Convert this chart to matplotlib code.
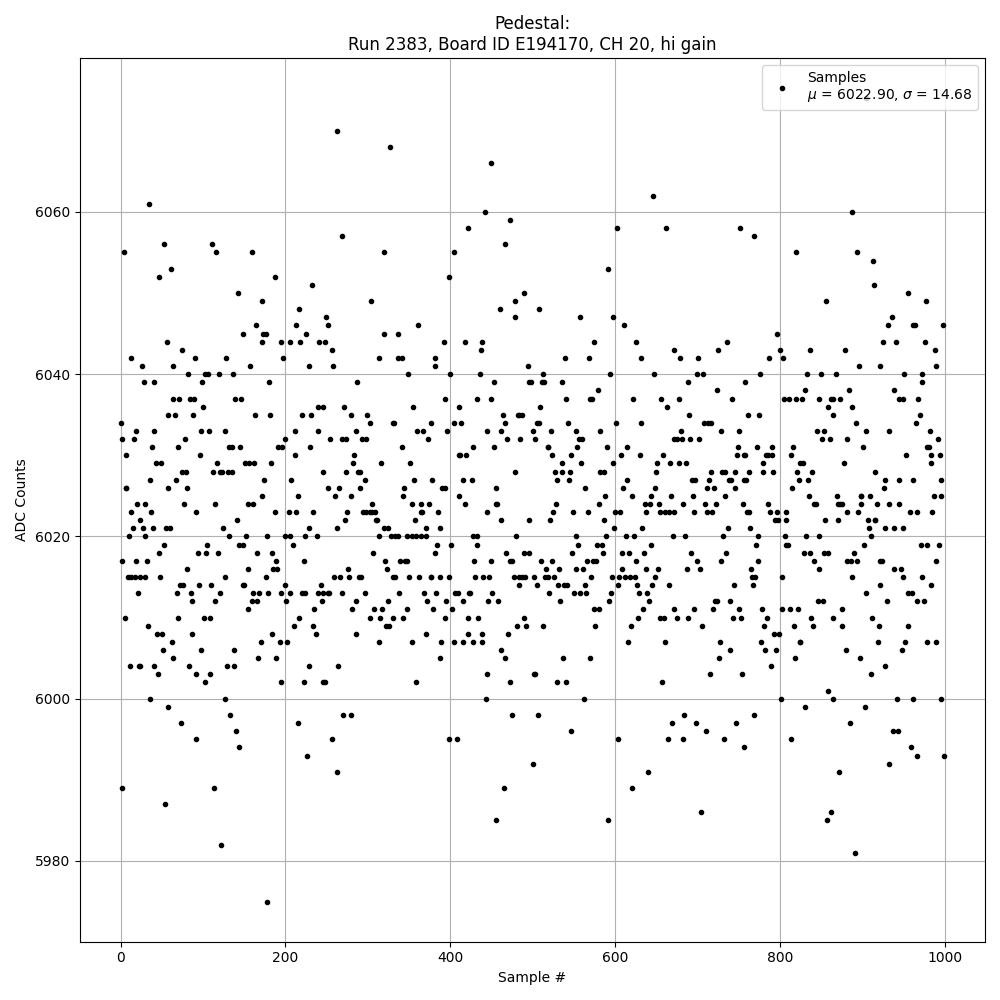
import matplotlib
matplotlib.use('Agg')
import matplotlib.pyplot as plt

# samples, grouped per ADC level
adc_levels = [6074, 6070, 6068, 6066, 6062, 6061, 6060, 6059, 6058, 6057, 6056, 6055, 6054, 6053, 6052, 6051,
              6050, 6049, 6048, 6047, 6046, 6045, 6044, 6043, 6042, 6041, 6040, 6039, 6038, 6037, 6036, 6035]
samples_high = [
    [905], [263], [327], [450], [646], [34], [442, 887], [472], [422, 602, 662, 752], [268, 768],
    [52, 111, 467], [4, 116, 159, 319, 405, 819, 893], [913], [61, 592], [46, 187, 399], [232, 914],
    [142, 490, 956], [172, 304, 479, 856, 977], [217, 460, 508], [249, 478, 558, 598, 936],
    [164, 213, 252, 361, 611, 931, 961, 964, 998], [148, 173, 176, 225, 320, 337, 796],
    [56, 172, 195, 206, 218, 241, 248, 392, 418, 439, 575, 625, 736, 925, 941, 976],
    [74, 257, 437, 672, 725, 800, 836, 879, 988],
    [12, 90, 128, 197, 314, 336, 341, 382, 539, 568, 632, 679, 701, 787, 804],
    [26, 64, 157, 228, 258, 381, 494, 896, 921, 989],
    [82, 102, 106, 119, 136, 349, 400, 436, 513, 594, 647, 699, 707, 776, 833, 850, 868, 951, 972],
    [28, 40, 99, 180, 287, 453, 495, 498, 511, 514, 536, 688, 758, 973],
    [579, 724, 830, 884, 938],
    [63, 71, 84, 89, 139, 146, 393, 433, 450, 541, 569, 572, 622, 656, 678, 742, 805, 811, 819, 827, 847, 862,
     865, 873, 944, 949, 968],
    [100, 239, 246, 271, 355, 411, 509, 663, 858, 887],
    [58, 66, 88, 163, 181, 220, 231, 280, 299, 464, 482, 484, 487, 690, 761, 775, 864, 970],
]

mid_levels = [6034, 6033, 6032, 6031, 6030, 6029, 6028, 6027, 6026, 6025, 6024, 6023, 6022, 6021, 6020, 6019, 6018]
samples_mid = [
    [0, 302, 331, 332, 377, 405, 413, 466, 505, 508, 543, 601, 632, 708, 713, 716, 892, 965],
    [18, 40, 98, 107, 126, 212, 240, 285, 360, 367, 396, 445, 462, 501, 522, 553, 582, 680, 728, 750, 845, 853,
     904, 932, 982],
    [1, 16, 78, 200, 254, 269, 274, 293, 298, 373, 469, 485, 503, 556, 560, 672, 675, 681, 691, 702, 851, 861,
     882, 992],
    [38, 70, 132, 135, 145, 191, 196, 230, 342, 428, 453, 518, 519, 554, 590, 615, 749, 772, 790, 816, 901, 979,
     981],
    [6, 96, 211, 283, 411, 412, 419, 524, 547, 607, 630, 658, 748, 756, 758, 783, 785, 791, 813, 953, 984, 994],
    [43, 49, 117, 151, 156, 162, 183, 282, 316, 351, 535, 559, 598, 651, 667, 678, 686, 779, 824, 828, 878, 983],
    [74, 79, 112, 121, 123, 130, 135, 246, 274, 288, 291, 479, 527, 536, 545, 582, 587, 650, 716, 730, 733, 745,
     762, 780, 792, 821, 839, 915],
    [35, 67, 174, 207, 296, 356, 378, 415, 426, 530, 544, 615, 693, 697, 714, 738, 741, 757, 759, 823, 834, 927,
     944, 961, 996],
    [6, 7, 57, 80, 252, 265, 291, 344, 390, 394, 455, 564, 610, 648, 712, 720, 746, 815, 926],
    [171, 215, 260, 280, 343, 410, 588, 621, 644, 668, 695, 733, 835, 869, 898, 899, 909, 987, 995],
    [20, 30, 77, 115, 155, 161, 305, 353, 364, 374, 418, 456, 457, 528, 581, 636, 642, 653, 682, 709, 722, 755,
     785, 841, 844, 870, 873, 875, 899, 918, 933, 945],
    [12, 37, 91, 187, 204, 213, 234, 275, 294, 298, 302, 305, 309, 365, 366, 385, 445, 525, 549, 567, 600, 606,
     638, 655, 661, 665, 671, 696, 712, 718, 760, 763, 788, 796, 807, 881, 895, 958, 966, 985],
    [23, 141, 272, 310, 311, 357, 461, 496, 521, 587, 794, 798, 808, 855, 871, 907, 915, 916],
    [15, 27, 39, 55, 60, 124, 229, 262, 320, 325, 371, 388, 599, 633, 737, 764, 908, 927, 939, 949],
    [10, 29, 132, 152, 178, 199, 205, 224, 238, 314, 328, 333, 337, 348, 354, 359, 365, 370, 427, 433, 480, 552,
     589, 613, 623, 670, 685, 731, 773, 806, 832, 848, 910],
    [52, 105, 144, 148, 209, 384, 401, 432, 555, 578, 584, 644, 771, 808, 810, 902, 971, 978, 993],
    [46, 94, 104, 118, 166, 184, 306, 382, 468, 489, 496, 548, 585, 608, 617, 635, 692, 735, 829, 836, 853, 858,
     890],
]

low_levels = [6017, 6016, 6015, 6014, 6013, 6012, 6011, 6010, 6009, 6008, 6007, 6006, 6005, 6004, 6003, 6002, 6001]
samples_low = [
    [2, 18, 32, 189, 222, 321, 339, 345, 347, 429, 449, 473, 475, 510, 524, 566, 573, 577, 625, 699, 728, 773,
     841, 881, 886, 893, 921, 924, 990],
    [80, 155, 185, 190, 276, 323, 516, 532, 553, 561, 608, 638, 652, 687, 703, 765, 847, 938, 947],
    [9, 13, 17, 23, 29, 48, 127, 176, 259, 266, 277, 289, 292, 331, 333, 350, 362, 376, 377, 387, 399, 430, 440,
     447, 477, 484, 487, 491, 502, 515, 519, 526, 571, 596, 605, 612, 618, 624, 648, 766, 770, 802, 888, 950,
     973],
    [72, 76, 95, 110, 149, 150, 200, 243, 484, 505, 531, 538, 542, 564, 604, 627, 645, 665, 744, 767, 922, 983],
    [21, 68, 85, 121, 161, 168, 179, 195, 206, 220, 224, 240, 245, 251, 253, 269, 297, 338, 368, 383, 406, 409,
     423, 424, 451, 520, 550, 558, 565, 595, 629, 639, 905, 955, 960],
    [87, 115, 159, 166, 201, 244, 286, 325, 372, 395, 416, 446, 458, 533, 593, 641, 721, 724, 739, 846, 852, 930,
     967, 975],
    [154, 235, 281, 308, 317, 348, 379, 402, 575, 581, 634, 671, 696, 719, 750, 778, 802, 812, 822, 876],
    [5, 70, 101, 109, 217, 303, 315, 330, 343, 394, 422, 434, 490, 628, 655, 659, 675, 688, 743, 753, 784, 838,
     864, 912],
    [33, 210, 234, 322, 326, 481, 492, 513, 576, 619, 705, 781, 817, 840, 875, 920, 955],
    [44, 50, 87, 184, 237, 286, 371, 421, 438, 470, 793, 799],
    [62, 170, 193, 202, 313, 354, 389, 404, 416, 428, 439, 616, 661, 727, 777, 824, 825, 919, 952, 978, 989],
    [51, 98, 138, 462, 739, 782, 795, 880, 948],
    [63, 167, 189, 388, 467, 537, 570, 726, 818, 897],
    [11, 22, 24, 41, 83, 129, 138, 229, 264, 789, 928],
    [45, 91, 109, 444, 502, 503, 715, 754, 910],
    [102, 194, 223, 246, 248, 359, 472, 530, 541, 657],
    [859],
]

bottom_levels = [6000, 5999, 5998, 5997, 5996, 5995, 5994, 5993, 5992, 5991, 5989, 5987, 5986, 5985, 5982, 5981, 5975]
samples_bottom = [
    [35, 127, 443, 562, 801, 865, 942, 961, 996],
    [57, 830, 903],
    [133, 270, 279, 475, 507, 684, 768],
    [73, 215, 669, 698, 747, 885],
    [140, 547, 710, 937, 943],
    [92, 257, 398, 408, 604, 664, 682, 732, 813],
    [144, 756, 959],
    [226, 966, 999],
    [500, 932],
    [263, 640, 872],
    [1, 113, 465, 621],
    [54],
    [704, 862],
    [456, 592, 857],
    [122],
    [891],
    [178],
]

all_levels = adc_levels + mid_levels + low_levels + bottom_levels
all_samples = samples_high + samples_mid + samples_low + samples_bottom

x = []
y = []
for level, samples in zip(all_levels, all_samples):
    for s in samples:
        x.append(s)
        y.append(level)

fig, ax = plt.subplots(figsize=(10, 10), dpi=100)

ax.plot(x, y, 'k.', label="Samples\n$\\mu$ = 6022.90, $\\sigma$ = 14.68")

ax.set_title("Pedestal:\nRun 2383, Board ID E194170, CH 20, hi gain")
ax.set_xlabel("Sample #")
ax.set_ylabel("ADC Counts")
ax.set_xlim(-49.95, 1048.95)
ax.grid()
ax.legend(loc='upper right')

fig.tight_layout()
fig.savefig('out.png', dpi=100)
